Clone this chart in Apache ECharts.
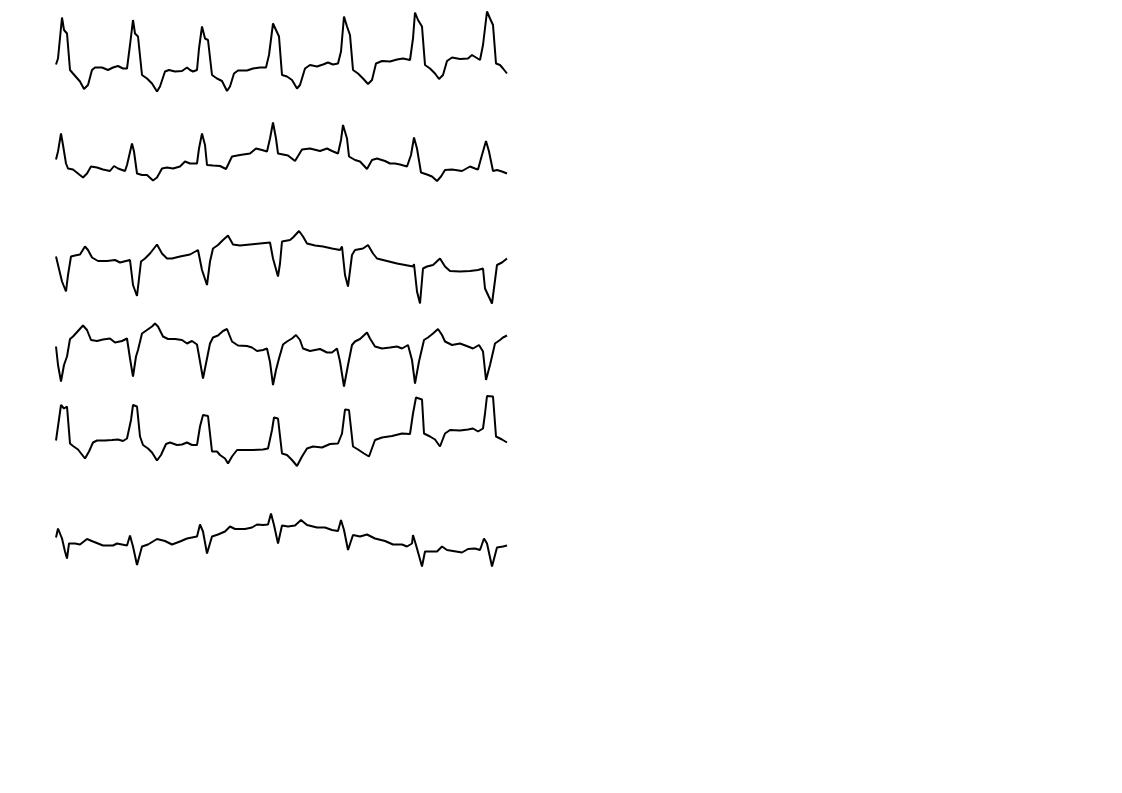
<!DOCTYPE html>
<html>
<head>
<meta charset="utf-8">
<script src="https://cdn.jsdelivr.net/npm/echarts@6/dist/echarts.min.js"></script>
<style>html,body{margin:0;padding:0;background:#fff;}#c{width:1122px;height:793px;}</style>
</head>
<body>
<div id="c"></div>
<script>
// time in seconds, amplitude in mV
const leadI_t  = [0.01,0.03,0.07,0.09,0.12,0.15,0.18,0.25,0.29,0.33,0.37,0.40,0.47,0.53,0.58,0.63,0.68,0.72,0.75,0.78,0.80,0.83,0.87,0.92,0.97,1.02,1.05,1.10,1.14,1.20,1.27,1.32,1.35,1.38,1.42,1.44,1.47,1.50,1.53,1.57,1.62,1.67,1.72,1.75,1.79,1.83,1.92,1.98,2.05,2.11,2.14,2.18,2.21,2.24,2.27,2.32,2.37,2.42,2.45,2.50,2.55,2.62,2.68,2.73,2.78,2.83,2.86,2.89,2.92,2.95,2.98,3.03,3.08,3.13,3.17,3.21,3.27,3.35,3.42,3.48,3.50,3.55,3.58,3.60,3.63,3.67,3.70,3.75,3.80,3.84,3.88,3.92,3.97,4.05,4.13,4.17,4.21,4.25,4.28,4.32,4.35,4.38,4.41,4.45,4.48,4.52];
const leadI_mv = [-0.25,-0.13,0.69,0.44,0.37,-0.36,-0.43,-0.59,-0.74,-0.66,-0.36,-0.31,-0.31,-0.36,-0.31,-0.28,-0.33,-0.33,0.14,0.64,0.37,0.31,-0.46,-0.53,-0.63,-0.79,-0.69,-0.39,-0.36,-0.39,-0.38,-0.31,-0.36,-0.39,-0.36,0.07,0.51,0.27,0.24,-0.46,-0.53,-0.58,-0.78,-0.69,-0.43,-0.37,-0.37,-0.33,-0.31,-0.31,-0.06,0.57,0.44,0.31,-0.46,-0.49,-0.56,-0.73,-0.66,-0.33,-0.26,-0.29,-0.25,-0.21,-0.25,-0.23,0.01,0.71,0.51,0.34,-0.36,-0.43,-0.53,-0.64,-0.56,-0.23,-0.18,-0.19,-0.15,-0.13,-0.16,-0.16,0.27,0.79,0.64,0.51,-0.26,-0.33,-0.43,-0.54,-0.46,-0.18,-0.11,-0.14,-0.13,-0.06,-0.11,-0.16,0.14,0.81,0.67,0.54,-0.23,-0.26,-0.33,-0.43];

const leadII_t  = [0.01,0.03,0.06,0.08,0.11,0.13,0.18,0.23,0.28,0.32,0.36,0.42,0.48,0.55,0.59,0.63,0.70,0.72,0.77,0.79,0.82,0.87,0.92,0.98,1.02,1.07,1.12,1.18,1.25,1.30,1.35,1.42,1.44,1.47,1.50,1.52,1.58,1.65,1.71,1.77,1.85,1.95,2.01,2.07,2.12,2.15,2.18,2.21,2.23,2.28,2.33,2.35,2.40,2.47,2.55,2.65,2.72,2.77,2.83,2.86,2.88,2.92,2.94,3.00,3.05,3.12,3.17,3.22,3.30,3.35,3.40,3.45,3.52,3.56,3.59,3.62,3.66,3.72,3.77,3.82,3.86,3.90,3.97,4.07,4.15,4.20,4.23,4.26,4.31,4.34,4.38,4.42,4.47,4.52];
const leadII_mv = [-0.15,0.01,0.37,0.14,-0.23,-0.33,-0.35,-0.43,-0.51,-0.43,-0.29,-0.31,-0.35,-0.38,-0.28,-0.33,-0.38,-0.26,0.17,0.01,-0.43,-0.46,-0.46,-0.57,-0.51,-0.33,-0.31,-0.33,-0.29,-0.19,-0.23,-0.23,0.07,0.37,0.14,-0.26,-0.27,-0.28,-0.34,-0.09,-0.06,-0.03,0.07,0.04,0.01,0.27,0.59,0.27,-0.03,-0.05,-0.07,-0.09,-0.18,0.05,0.07,0.02,0.07,0.02,-0.03,0.24,0.54,0.27,-0.09,-0.16,-0.19,-0.34,-0.16,-0.13,-0.18,-0.23,-0.23,-0.25,-0.29,-0.06,0.29,0.07,-0.41,-0.45,-0.49,-0.58,-0.49,-0.36,-0.35,-0.38,-0.29,-0.33,-0.35,-0.13,0.22,0.01,-0.38,-0.36,-0.39,-0.43];

const leadIII_t  = [0.01,0.03,0.07,0.11,0.13,0.16,0.20,0.25,0.30,0.33,0.37,0.43,0.52,0.60,0.65,0.75,0.78,0.82,0.86,0.90,0.95,1.02,1.07,1.12,1.17,1.25,1.35,1.43,1.47,1.52,1.55,1.58,1.63,1.68,1.73,1.78,1.85,1.95,2.05,2.15,2.18,2.23,2.25,2.27,2.35,2.38,2.44,2.48,2.52,2.60,2.68,2.77,2.85,2.87,2.90,2.93,2.97,3.00,3.08,3.13,3.18,3.22,3.32,3.42,3.50,3.58,3.59,3.62,3.65,3.68,3.72,3.78,3.85,3.90,3.95,4.05,4.15,4.23,4.28,4.30,4.37,4.42,4.47,4.52];
const leadIII_mv = [0.19,0.23,-0.31,-0.51,-0.18,0.19,0.21,0.23,0.39,0.32,0.17,0.10,0.10,0.12,0.07,0.12,-0.38,-0.60,0.09,0.15,0.25,0.43,0.25,0.15,0.15,0.19,0.23,0.32,-0.08,-0.38,0.09,0.35,0.42,0.52,0.61,0.43,0.41,0.43,0.45,0.47,0.15,-0.21,0.05,0.49,0.52,0.57,0.70,0.59,0.45,0.41,0.39,0.35,0.32,0.39,-0.18,-0.41,0.22,0.32,0.35,0.42,0.25,0.15,0.10,0.05,0.02,-0.01,0.04,-0.51,-0.75,-0.05,-0.01,0.02,0.15,-0.01,-0.10,-0.11,-0.10,-0.08,-0.05,-0.45,-0.75,0.02,0.07,0.15];

const leadAVR_t  = [0.01,0.03,0.06,0.09,0.12,0.15,0.18,0.23,0.28,0.32,0.36,0.42,0.48,0.55,0.60,0.67,0.72,0.75,0.78,0.81,0.83,0.87,0.92,0.97,1.00,1.03,1.08,1.13,1.20,1.27,1.32,1.37,1.42,1.45,1.48,1.52,1.55,1.58,1.63,1.68,1.72,1.77,1.83,1.92,1.97,2.02,2.08,2.12,2.15,2.18,2.21,2.24,2.28,2.32,2.37,2.41,2.45,2.48,2.55,2.65,2.72,2.77,2.82,2.85,2.89,2.93,2.97,3.00,3.05,3.12,3.15,3.20,3.27,3.35,3.42,3.47,3.53,3.57,3.60,3.64,3.69,3.73,3.78,3.83,3.87,3.90,3.97,4.05,4.13,4.18,4.24,4.28,4.31,4.35,4.40,4.45,4.48,4.52];
const leadAVR_mv = [0.13,-0.24,-0.57,-0.24,-0.07,0.28,0.33,0.44,0.55,0.46,0.26,0.24,0.27,0.29,0.21,0.24,0.29,-0.11,-0.47,-0.07,0.06,0.39,0.46,0.53,0.59,0.53,0.33,0.28,0.28,0.26,0.19,0.24,0.17,-0.17,-0.51,-0.11,0.19,0.31,0.35,0.44,0.48,0.23,0.15,0.14,0.11,0.04,0.06,0.09,-0.18,-0.64,-0.34,-0.11,0.17,0.23,0.29,0.36,0.26,0.09,0.04,0.08,0.01,0.01,0.09,-0.17,-0.67,-0.24,0.16,0.23,0.28,0.41,0.29,0.13,0.09,0.11,0.13,0.09,0.16,-0.14,-0.61,-0.17,0.26,0.31,0.39,0.48,0.36,0.23,0.16,0.19,0.13,0.09,0.16,0.03,-0.54,-0.24,0.19,0.26,0.31,0.35];

const leadAVL_t  = [0.01,0.03,0.06,0.09,0.12,0.15,0.18,0.23,0.30,0.34,0.38,0.42,0.50,0.57,0.63,0.68,0.72,0.76,0.78,0.82,0.85,0.88,0.93,0.97,1.02,1.06,1.11,1.15,1.22,1.27,1.32,1.37,1.42,1.45,1.48,1.53,1.57,1.62,1.65,1.70,1.73,1.77,1.82,1.88,1.98,2.08,2.13,2.17,2.19,2.23,2.27,2.32,2.37,2.42,2.47,2.52,2.58,2.67,2.75,2.83,2.87,2.90,2.94,2.98,3.03,3.09,3.14,3.20,3.27,3.37,3.47,3.55,3.58,3.61,3.67,3.69,3.75,3.80,3.85,3.90,3.95,4.05,4.13,4.18,4.23,4.28,4.30,4.32,4.38,4.41,4.47,4.52];
const leadAVL_mv = [-0.19,-0.17,0.52,0.45,0.49,-0.25,-0.30,-0.37,-0.55,-0.41,-0.23,-0.19,-0.19,-0.18,-0.17,-0.20,-0.15,0.22,0.52,0.49,-0.11,-0.28,-0.35,-0.43,-0.59,-0.48,-0.26,-0.23,-0.28,-0.27,-0.23,-0.28,-0.28,0.09,0.32,0.30,-0.41,-0.41,-0.48,-0.55,-0.65,-0.51,-0.38,-0.38,-0.38,-0.37,-0.35,0.02,0.27,0.25,-0.45,-0.48,-0.58,-0.70,-0.51,-0.35,-0.31,-0.33,-0.26,-0.25,-0.05,0.43,0.42,-0.31,-0.37,-0.45,-0.51,-0.18,-0.13,-0.10,-0.05,-0.06,0.35,0.67,0.63,-0.05,-0.11,-0.17,-0.31,-0.05,0.02,0.01,0.03,0.05,-0.01,0.05,0.35,0.70,0.69,-0.11,-0.17,-0.23];

const leadAVF_t  = [0.01,0.03,0.07,0.10,0.12,0.14,0.20,0.25,0.32,0.38,0.48,0.58,0.62,0.72,0.75,0.78,0.82,0.87,0.93,1.02,1.10,1.17,1.25,1.32,1.42,1.45,1.48,1.52,1.57,1.63,1.70,1.75,1.80,1.90,1.97,2.02,2.08,2.13,2.16,2.19,2.23,2.27,2.33,2.40,2.46,2.52,2.62,2.70,2.77,2.83,2.86,2.89,2.93,2.98,3.05,3.12,3.20,3.30,3.38,3.47,3.52,3.57,3.58,3.61,3.67,3.70,3.75,3.82,3.87,3.92,3.98,4.07,4.13,4.20,4.25,4.29,4.32,4.37,4.42,4.48,4.52];
const leadAVF_mv = [0.05,0.23,0.03,-0.23,-0.37,-0.07,-0.07,-0.09,0.02,-0.03,-0.11,-0.11,-0.07,-0.11,0.09,-0.13,-0.50,-0.13,-0.09,0.02,-0.02,-0.09,-0.03,0.03,0.07,0.31,0.17,-0.27,0.07,0.11,0.17,0.27,0.22,0.22,0.25,0.31,0.30,0.31,0.53,0.30,-0.07,0.29,0.27,0.29,0.40,0.30,0.25,0.25,0.20,0.18,0.40,0.20,-0.20,0.10,0.07,0.11,0.03,-0.02,-0.09,-0.09,-0.13,-0.07,0.10,-0.10,-0.53,-0.23,-0.23,-0.23,-0.13,-0.20,-0.22,-0.25,-0.18,-0.17,-0.20,0.03,-0.07,-0.53,-0.15,-0.13,-0.11];

const leads = [
  {name: 'I',   t: leadI_t,   v: leadI_mv,   center: 52},
  {name: 'II',  t: leadII_t,  v: leadII_mv,  center: 152},
  {name: 'III', t: leadIII_t, v: leadIII_mv, center: 266},
  {name: 'aVR', t: leadAVR_t, v: leadAVR_mv, center: 353},
  {name: 'aVL', t: leadAVL_t, v: leadAVL_mv, center: 431},
  {name: 'aVF', t: leadAVF_t, v: leadAVF_mv, center: 540}
];

const chart = echarts.init(document.getElementById('c'), null, {renderer: 'canvas'});
const grid = [], xAxis = [], yAxis = [], series = [];
leads.forEach((L, i) => {
  grid.push({left: 55, width: 452, top: L.center - 50, height: 100});
  xAxis.push({type: 'value', gridIndex: i, min: 0, max: 4.52, show: false});
  yAxis.push({type: 'value', gridIndex: i, min: -1, max: 1, show: false});
  series.push({
    name: L.name, type: 'line', xAxisIndex: i, yAxisIndex: i,
    data: L.t.map((t, k) => [t, L.v[k]]),
    showSymbol: false, symbol: 'none',
    lineStyle: {color: '#000', width: 2},
    animation: false
  });
});
chart.setOption({backgroundColor: '#fff', animation: false, grid, xAxis, yAxis, series});
</script>
</body>
</html>
